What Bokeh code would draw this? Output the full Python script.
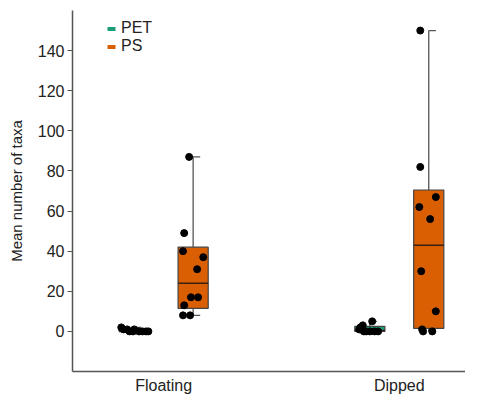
from bokeh.plotting import figure
from bokeh.models import ColumnDataSource, FixedTicker, Legend, LegendItem, Range1d
from bokeh.embed import file_html
from bokeh.resources import INLINE

categories = ["Floating", "Dipped"]
groups = ["PET", "PS"]
colors = ["#1b9e77", "#d95f02"]

# raw points per box (order: PET-Floating, PS-Floating, PET-Dipped, PS-Dipped)
pet_floating = [2, 1, 1, 0, 0, 1, 0, 0, 0, 0]
ps_floating = [87, 49, 40, 37, 31, 17, 17, 13, 8, 8]
pet_dipped = [2, 3, 1, 0, 5, 0, 0, 1, 0, 0]
ps_dipped = [150, 82, 67, 62, 56, 30, 10, 1, 0, 0]

# box statistics
box_low = [0, 8, 0, 0]
box_q1 = [0, 11.5, 0, 1.5]
box_med = [0, 24, 0.5, 43]
box_q3 = [1, 42, 2.5, 70.5]
box_high = [2, 87, 5, 150]

# horizontal jitter of points (fraction of a category step)
jitter = [
    [-0.055, -0.045, -0.03, -0.02, -0.005, 0.0, 0.02, 0.035, 0.05, 0.06],
    [-0.017, -0.038, -0.043, 0.043, 0.017, -0.009, 0.021, -0.038, -0.043, -0.013],
    [-0.04, -0.03, -0.045, -0.015, 0.01, 0.02, 0.035, -0.04, 0.0, -0.025],
    [-0.036, -0.036, 0.03, -0.04, 0.006, -0.032, 0.03, -0.028, -0.024, 0.015],
]

cat_pos = [0.5, 1.5]
dodge = [-0.125, 0.125]
box_w = 0.128
cap_w = 0.03

p = figure(width=465, height=396, output_backend="svg", toolbar_location=None,
           x_range=Range1d(0.113, 1.781), y_range=Range1d(-20, 160),
           min_border_left=72, min_border_right=0, min_border_top=10, min_border_bottom=20)
p.background_fill_color = "white"
p.outline_line_color = None
p.xgrid.grid_line_color = None
p.ygrid.grid_line_color = None

xs, fills = [], []
for ci in range(len(categories)):
    for gi in range(len(groups)):
        xs.append(cat_pos[ci] + dodge[gi])
        fills.append(colors[gi])

box_src = ColumnDataSource(dict(x=xs, low=box_low, q1=box_q1, med=box_med, q3=box_q3,
                                high=box_high, fill=fills,
                                x0=[x - box_w / 2 for x in xs], x1=[x + box_w / 2 for x in xs],
                                xc=[x + cap_w for x in xs]))

# whiskers
p.segment(x0="x", y0="low", x1="x", y1="q1", source=box_src, line_color="#555555", line_width=1.3)
p.segment(x0="x", y0="q3", x1="x", y1="high", source=box_src, line_color="#555555", line_width=1.3)
p.segment(x0="x", y0="high", x1="xc", y1="high", source=box_src, line_color="#555555", line_width=1.3)
p.segment(x0="x", y0="low", x1="xc", y1="low", source=box_src, line_color="#555555", line_width=1.3)

boxes = p.vbar(x="x", width=box_w, bottom="q1", top="q3", source=box_src,
               fill_color="fill", line_color="#444444", line_width=1.2)
p.segment(x0="x0", y0="med", x1="x1", y1="med", source=box_src, line_color="#3a2010", line_width=1.5)

all_points = [pet_floating, ps_floating, pet_dipped, ps_dipped]
px, py = [], []
for bi, vals in enumerate(all_points):
    for j, v in enumerate(vals):
        px.append(xs[bi] + jitter[bi][j])
        py.append(v)
p.scatter(x=px, y=py, size=7, fill_color="black", line_color="black")

# legend proxies
pet_r = p.vbar(x=[-5], width=0.1, top=[0], fill_color=colors[0], line_color=None)
ps_r = p.vbar(x=[-5], width=0.1, top=[0], fill_color=colors[1], line_color=None)
legend = Legend(items=[LegendItem(label=groups[0], renderers=[pet_r]),
                       LegendItem(label=groups[1], renderers=[ps_r])],
                location=(34, 316), glyph_width=10, glyph_height=5,
                label_text_font="Liberation Sans", label_text_font_size="16px",
                label_text_color="#222222", spacing=0, padding=2, margin=0,
                border_line_color=None, background_fill_alpha=0, label_standoff=5)
p.add_layout(legend)

# axes
p.xaxis.ticker = FixedTicker(ticks=cat_pos)
p.xaxis.major_label_overrides = {cat_pos[0]: categories[0], cat_pos[1]: categories[1]}
p.xaxis.major_tick_line_color = None
p.xaxis.minor_tick_line_color = None
p.xaxis.major_tick_out = 0
p.xaxis.major_tick_in = 0
p.xaxis.minor_tick_out = 0
p.xaxis.major_label_standoff = 5
p.xaxis.axis_line_color = "#555555"
p.xaxis.axis_line_width = 1.5

p.yaxis.ticker = FixedTicker(ticks=[0, 20, 40, 60, 80, 100, 120, 140])
p.yaxis.minor_tick_line_color = None
p.yaxis.major_tick_out = 5
p.yaxis.major_tick_in = 0
p.yaxis.major_tick_line_color = "#555555"
p.yaxis.axis_line_color = "#555555"
p.yaxis.axis_line_width = 1.5
p.yaxis.major_label_standoff = 3
p.yaxis.axis_label = "Mean number of taxa"
p.yaxis.axis_label_standoff = 10

for ax in [p.xaxis[0], p.yaxis[0]]:
    ax.major_label_text_font = "Liberation Sans"
    ax.major_label_text_font_size = "16px"
    ax.major_label_text_color = "#222222"
    ax.axis_label_text_font = "Liberation Sans"
    ax.axis_label_text_font_size = "15px"
    ax.axis_label_text_font_style = "normal"
    ax.axis_label_text_color = "#222222"

open("out.html", "w").write(file_html(p, INLINE))
